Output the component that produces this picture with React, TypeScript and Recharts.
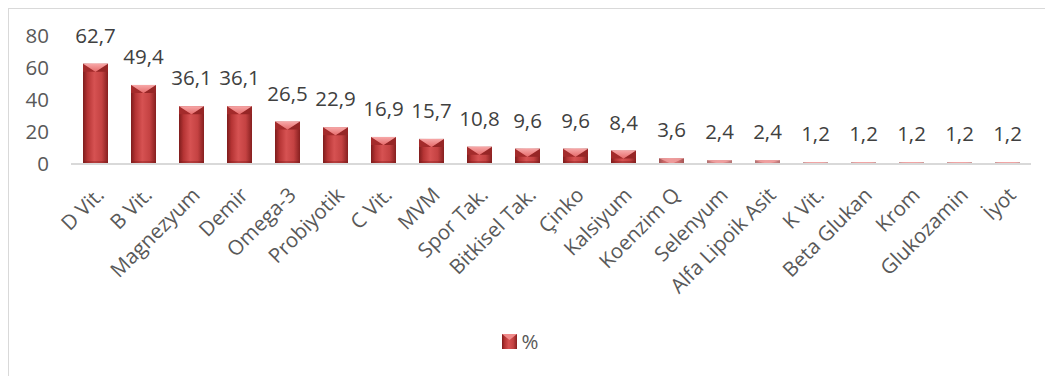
import React from 'react'
import { BarChart, Bar, XAxis, YAxis, LabelList, Legend } from 'recharts'

const categories = [
  'D Vit.', 'B Vit.', 'Magnezyum', 'Demir', 'Omega-3', 'Probiyotik', 'C Vit.', 'MVM',
  'Spor Tak.', 'Bitkisel Tak.', 'Çinko', 'Kalsiyum', 'Koenzim Q', 'Selenyum',
  'Alfa Lipoik Asit', 'K Vit.', 'Beta Glukan', 'Krom', 'Glukozamin', 'İyot',
]
const values = [62.7, 49.4, 36.1, 36.1, 26.5, 22.9, 16.9, 15.7, 10.8, 9.6, 9.6, 8.4, 3.6, 2.4, 2.4, 1.2, 1.2, 1.2, 1.2, 1.2]
const yTicks = [0, 20, 40, 60, 80]

const data = categories.map((name, i) => ({ name, pct: values[i] }))

const FONT = '"Open Sans", sans-serif'
const FS = 20.5

function BevelBar(props: any) {
  const { x, y, width, height } = props
  if (!height || height <= 0) return null
  const b = Math.min(8, height)
  if (height < 8) {
    return (
      <g>
        <rect x={x} y={y} width={width} height={height} fill="url(#bodyGrad)" opacity={0.35 + height / 14} />
        <polygon points={`${x},${y} ${x + width},${y} ${x + width / 2},${y + b}`} fill="#f3a3a3" opacity={0.8} />
      </g>
    )
  }
  return (
    <g>
      <rect x={x} y={y} width={width} height={height} fill="url(#bodyGrad)" />
      <rect x={x} y={y + height - 3} width={width} height={3} fill="#7a1b1b" opacity={0.35} />
      <polygon points={`${x},${y} ${x + width / 2},${y + b} ${x},${y + b}`} fill="#a32b2b" />
      <polygon points={`${x + width},${y} ${x + width / 2},${y + b} ${x + width},${y + b}`} fill="#962626" />
      <polygon points={`${x},${y} ${x + width},${y} ${x + width / 2},${y + b}`} fill="url(#topGrad)" />
    </g>
  )
}

function LegendBox() {
  return (
    <div style={{ height: 24, display: 'flex', justifyContent: 'center', alignItems: 'center', fontFamily: FONT, fontSize: FS, color: '#595959' }}>
      <svg width={15} height={15} style={{ marginRight: 5 }}>
        <rect x={0} y={0} width={15} height={15} fill="url(#bodyGrad)" />
        <polygon points="0,0 15,0 7.5,6" fill="#f08a8a" />
      </svg>
      <span>%</span>
    </div>
  )
}

export default function App() {
  return (
    <div style={{ width: 1060, height: 400, borderLeft: '2px solid #d9d9d9', borderTop: '2px solid #d9d9d9', marginTop: -1, marginLeft: -1 }}>
      <BarChart width={1040} height={360} data={data} margin={{ top: 27, right: 18, left: 0, bottom: 16 }} barSize={25}>
        <defs>
          <linearGradient id="bodyGrad" x1="0" y1="0" x2="1" y2="0">
            <stop offset="0%" stopColor="#7e1c1c" />
            <stop offset="18%" stopColor="#b53434" />
            <stop offset="45%" stopColor="#d65252" />
            <stop offset="75%" stopColor="#c44242" />
            <stop offset="100%" stopColor="#861f1f" />
          </linearGradient>
          <linearGradient id="topGrad" x1="0" y1="0" x2="0" y2="1">
            <stop offset="0%" stopColor="#f7a8a8" />
            <stop offset="100%" stopColor="#e56b6b" />
          </linearGradient>
        </defs>
        <XAxis
          dataKey="name"
          interval={0}
          height={165}
          angle={-45}
          textAnchor="end"
          tickLine={false}
          axisLine={{ stroke: '#d9d9d9', strokeWidth: 2 }}
          tick={{ fill: '#595959', fontSize: FS, fontFamily: FONT }}
          tickMargin={16}
        />
        <YAxis
          domain={[0, 80]}
          ticks={yTicks}
          interval={0}
          width={62}
          axisLine={false}
          tickLine={false}
          tickMargin={16}
          tick={{ fill: '#595959', fontSize: FS, fontFamily: FONT }}
        />
        <Legend verticalAlign="bottom" content={() => <LegendBox />} />
        <Bar dataKey="pct" name="%" shape={<BevelBar />} isAnimationActive={false}>
          <LabelList
            dataKey="pct"
            position="top"
            offset={21}
            formatter={(v: any) => String(v).replace('.', ',')}
            style={{ fill: '#404040', fontSize: FS, fontFamily: FONT }}
          />
        </Bar>
      </BarChart>
    </div>
  )
}
